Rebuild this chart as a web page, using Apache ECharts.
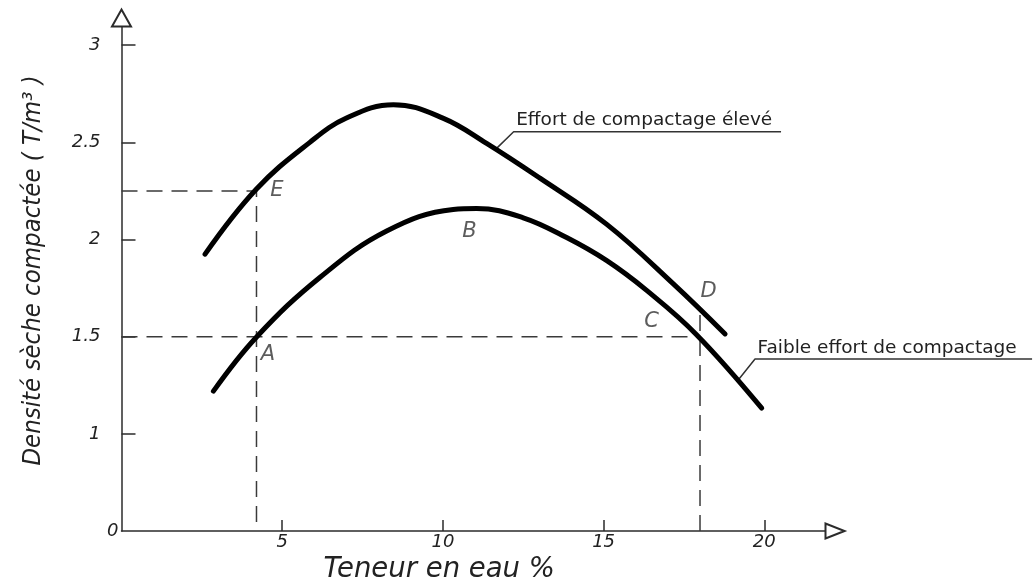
<!DOCTYPE html>
<html>
<head>
<meta charset="utf-8">
<title>Densité sèche compactée</title>
<script src="https://cdn.jsdelivr.net/npm/echarts@6/dist/echarts.min.js"></script>
<style>
  html, body { margin: 0; padding: 0; background: #fff; }
  #chart { width: 1034px; height: 581px; }
</style>
</head>
<body>
<div id="chart"></div>
<script>
// Courbes Proctor : densité sèche en fonction de la teneur en eau.
// Valeurs (x en %, y en T/m3).

var xTicks = [5, 10, 15, 20];
var yTicks = [1, 1.5, 2, 2.5, 3];
var yLabels = [0.5, 1, 1.5, 2, 2.5, 3]; // 0.5 = origine cassée, affichée "0"

// effort de compactage élevé
var highX = [2.6, 4.2, 5.86, 7.0, 8.46, 10.0, 11.36, 13.02, 15.1, 17.17, 18.78];
var highY = [1.925, 2.26, 2.5, 2.625, 2.694, 2.625, 2.495, 2.316, 2.078, 1.772, 1.514];

// faible effort de compactage
var lowX = [2.86, 4.21, 6.18, 8.25, 10.32, 11.05, 12.5, 13.85, 15.1, 16.34, 17.9, 19.92];
var lowY = [1.22, 1.5, 1.806, 2.044, 2.155, 2.16, 2.112, 2.01, 1.891, 1.738, 1.509, 1.132];

// points repères
var pointNames = ['E', 'A', 'B', 'C', 'D'];
var pointX = [4.2, 4.2, 11, 18, 18];
var pointY = [2.25, 1.5, 2.16, 1.5, 1.64];

// lignes de rappel en pointillés
var dashLines = [
  [[0, 2.25], [4.2, 2.25], [4.2, 0.5]],
  [[0, 1.5], [18, 1.5]],
  [[18, 0.5], [18, 1.64]]
];

// légendes avec trait de rappel
var noteTexts = ['Effort de compactage élevé', 'Faible effort de compactage'];
var noteLeaders = [
  [[11.67, 2.469], [12.2, 2.555], [20.52, 2.555]],
  [[19.2, 1.28], [19.71, 1.385], [28.33, 1.385]]
];

var ink = '#2b2b2b';
var fontTech = '"DejaVu Sans", "Liberation Sans", sans-serif';
var fontNarrow = '"Liberation Sans Narrow", "DejaVu Sans Condensed", "DejaVu Sans", sans-serif';

function zip(xs, ys) {
  return xs.map(function (x, i) { return [x, ys[i]]; });
}

// décalage (px) de chaque lettre par rapport à son point
var letterOffsets = {
  E: [21, 0],
  A: [12, 18],
  B: [-5, 24],
  C: [-48, -15],
  D: [9, -17]
};

var series = [];

dashLines.forEach(function (pts) {
  series.push({
    type: 'line',
    data: pts,
    symbol: 'none',
    silent: true,
    lineStyle: { color: '#3a3a3a', width: 1.5, type: [16, 9] },
    z: 1
  });
});

series.push({
  type: 'line',
  name: 'élevé',
  data: zip(highX, highY),
  smooth: 0.4,
  symbol: 'none',
  lineStyle: { color: '#000', width: 5, cap: 'round' },
  z: 3
});

series.push({
  type: 'line',
  name: 'faible',
  data: zip(lowX, lowY),
  smooth: 0.4,
  symbol: 'none',
  lineStyle: { color: '#000', width: 5, cap: 'round' },
  z: 3
});

// les traits de rappel vivent dans une 2e grille invisible, plus large,
// même échelle que la première (le texte du bas dépasse l'axe x)
noteLeaders.forEach(function (pts, i) {
  series.push({
    type: 'line',
    xAxisIndex: 1,
    yAxisIndex: 1,
    data: pts,
    symbol: 'none',
    silent: true,
    lineStyle: { color: '#333', width: 1.5 },
    markPoint: {
      symbol: 'circle',
      symbolSize: 1,
      itemStyle: { color: 'rgba(0,0,0,0)' },
      data: [{
        coord: pts[1],
        label: {
          show: true,
          formatter: noteTexts[i],
          position: [3, -1],
          align: 'left',
          verticalAlign: 'bottom',
          color: '#222',
          fontFamily: fontTech,
          fontSize: 18.5
        }
      }]
    },
    z: 2
  });
});

series.push({
  type: 'scatter',
  symbolSize: 1,
  itemStyle: { color: 'rgba(0,0,0,0)' },
  silent: true,
  data: pointNames.map(function (n, i) {
    var off = letterOffsets[n];
    return {
      value: [pointX[i], pointY[i]],
      label: {
        show: true,
        formatter: n,
        position: [off[0], off[1]],
        align: 'center',
        verticalAlign: 'middle',
        color: '#333',
        fontFamily: fontTech,
        fontStyle: 'italic',
        fontSize: 21
      }
    };
  }),
  z: 4
});

var tickFont = { fontFamily: fontTech, fontStyle: 'italic', fontSize: 18, color: '#222' };

var chart = echarts.init(document.getElementById('chart'));
chart.setOption({
  animation: false,
  backgroundColor: '#fff',
  grid: [
    { left: 121.5, right: 199, top: 18, bottom: 50, containLabel: false, outerBoundsMode: 'none' },
    { left: 121.5, right: 0, top: 18, bottom: 50, containLabel: false, outerBoundsMode: 'none' }
  ],
  xAxis: [{
    type: 'value',
    gridIndex: 0,
    min: 0,
    max: 22.2,
    name: 'Teneur en eau %',
    nameLocation: 'middle',
    nameGap: 18,
    nameTextStyle: {
      fontFamily: fontTech,
      fontStyle: 'italic',
      fontSize: 27.5,
      color: '#222',
      padding: [0, 78, 0, 0]
    },
    splitLine: { show: false },
    axisLine: {
      lineStyle: { color: ink, width: 1.5 },
      symbol: ['none', 'emptyTriangle'],
      symbolSize: [15, 19]
    },
    axisTick: {
      inside: true,
      length: 11,
      customValues: xTicks,
      lineStyle: { color: ink, width: 1.5 }
    },
    axisLabel: Object.assign({ customValues: xTicks, margin: 2 }, tickFont)
  }, {
    type: 'value',
    gridIndex: 1,
    min: 0,
    max: 28.39,
    show: false
  }],
  yAxis: [{
    type: 'value',
    gridIndex: 0,
    min: 0.5,
    max: 3.14,
    name: 'Densité sèche compactée ( T/m³ )',
    nameLocation: 'middle',
    nameRotate: 90,
    nameGap: 75,
    nameTextStyle: {
      fontFamily: fontNarrow,
      fontStyle: 'italic',
      fontSize: 25.5,
      color: '#222',
      padding: [0, 0, 0, 8]
    },
    splitLine: { show: false },
    axisLine: {
      lineStyle: { color: ink, width: 1.5 },
      symbol: ['none', 'emptyTriangle'],
      symbolSize: [19, 17]
    },
    axisTick: {
      inside: true,
      length: 14,
      customValues: yTicks,
      lineStyle: { color: ink, width: 1.5 }
    },
    axisLabel: {
      customValues: yLabels,
      margin: 3,
      formatter: function (v) {
        return v === 0.5 ? '{z|0}' : '{n|' + v + '}';
      },
      rich: {
        z: Object.assign({}, tickFont),
        n: Object.assign({ padding: [0, 18, 0, 0] }, tickFont)
      }
    }
  }, {
    type: 'value',
    gridIndex: 1,
    min: 0.5,
    max: 3.14,
    show: false
  }],
  series: series
});
</script>
</body>
</html>
